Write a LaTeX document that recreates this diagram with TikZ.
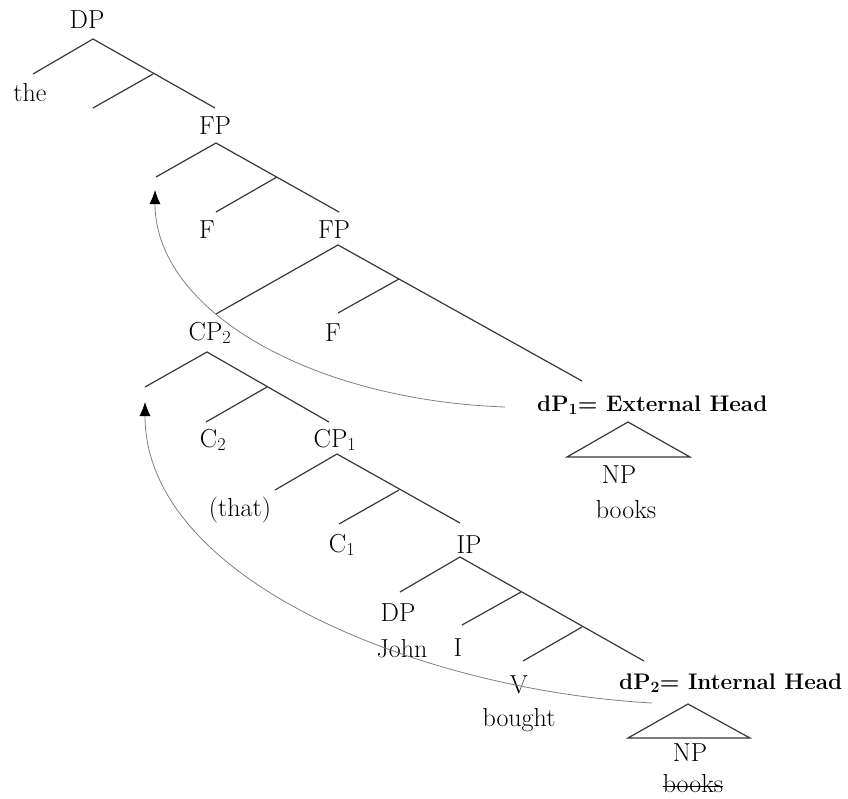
\documentclass[tikz,border=0pt]{standalone}
\usetikzlibrary{arrows.meta}

\begin{document}
\begin{tikzpicture}[x=1pt,y=-1pt,>=Latex,
lbl/.style={inner sep=0pt,font=\fontsize{26}{30}\selectfont},
hd/.style={inner sep=0pt,anchor=west,font=\fontsize{22.5}{27}\selectfont\bfseries},
br/.style={draw=black!78,line width=1.2pt},
mv/.style={draw=black!50,line width=0.8pt,-{Latex[black,length=14pt,width=11pt]}}]
\useasboundingbox (0,0) rectangle (848,798);
% upper tree: DP, FP, FP
\node[lbl] (dp) at (87,20) {DP};
\node[lbl] (the) at (30,93) {the};
\node[lbl] (fpa) at (215,126) {FP};
\node[lbl] (f1) at (207,230) {F};
\node[lbl] (fpb) at (334,230) {FP};
\node[lbl] (cp2) at (210,333) {CP\textsubscript{2}};
\node[lbl] (f2) at (333,333) {F};
\node[hd] (dp1) at (537,405) {dP\textsubscript{1}= External Head};
\node[lbl] (np1) at (619,475) {NP};
\node[lbl] (bk1) at (626,510) {books};
\coordinate (dpT) at (93,39);   \coordinate (theE) at (33,74);
\coordinate (m0) at (153,74);   \coordinate (m0L) at (93,108);
\coordinate (fpaE) at (215,108); \coordinate (fpaT) at (216,143);
\coordinate (fpaL) at (156,177); \coordinate (m1) at (277,177);
\coordinate (f1E) at (216,212); \coordinate (fpbE) at (339,212);
\coordinate (fpbT) at (338,245); \coordinate (cp2E) at (216,314);
\coordinate (m2) at (399,279);  \coordinate (f2E) at (338,313);
\coordinate (dp1E) at (582,381);
\coordinate (t1T) at (628,422); \coordinate (t1L) at (567,457); \coordinate (t1R) at (690,457);
\draw[br] (theE) -- (dpT) -- (fpaE);
\draw[br] (m0) -- (m0L);
\draw[br] (fpaL) -- (fpaT) -- (fpbE);
\draw[br] (m1) -- (f1E);
\draw[br] (cp2E) -- (fpbT) -- (dp1E);
\draw[br] (m2) -- (f2E);
\draw[br] (t1T) -- (t1R) -- (t1L) -- cycle;
% lower tree: CP2, CP1, IP
\node[lbl] (c2) at (213,440) {C\textsubscript{2}};
\node[lbl] (cp1) at (335,440) {CP\textsubscript{1}};
\node[lbl] (that) at (240,510) {(that)};
\node[lbl] (c1) at (342,545) {C\textsubscript{1}};
\node[lbl] (ip) at (469,545) {IP};
\node[lbl] (dp3) at (398,613) {DP};
\node[lbl] (john) at (402,649) {John};
\node[lbl] (infl) at (458,648) {I};
\node[lbl] (v) at (519,685) {V};
\node[lbl] (bought) at (519,720) {bought};
\node[hd] (dp2) at (619,683) {dP\textsubscript{2}= Internal Head};
\node[lbl] (np2) at (690,753) {NP};
\node[lbl] (bk2) at (693,784) {books};
\draw[line width=1pt] ([yshift=-2pt]bk2.west) -- ([yshift=-2pt]bk2.east);
\coordinate (cp2T) at (207,352); \coordinate (cp2L) at (145,387);
\coordinate (m3) at (267,387);  \coordinate (c2E) at (206,422);
\coordinate (cp1E) at (329,422); \coordinate (cp1T) at (337,454);
\coordinate (thatE) at (275,490); \coordinate (m4) at (399,490);
\coordinate (c1E) at (339,524); \coordinate (ipE) at (460,523);
\coordinate (ipT) at (460,557); \coordinate (dp3E) at (400,592);
\coordinate (m5) at (521,592);  \coordinate (iE) at (462,625);
\coordinate (m6) at (582,627);  \coordinate (vE) at (523,661);
\coordinate (dp2E) at (644,661);
\coordinate (t2T) at (688,704); \coordinate (t2L) at (628,738); \coordinate (t2R) at (750,738);
\draw[br] (cp2L) -- (cp2T) -- (cp1E);
\draw[br] (m3) -- (c2E);
\draw[br] (thatE) -- (cp1T) -- (ipE);
\draw[br] (m4) -- (c1E);
\draw[br] (dp3E) -- (ipT) -- (dp2E);
\draw[br] (m5) -- (iE);
\draw[br] (m6) -- (vE);
\draw[br] (t2T) -- (t2R) -- (t2L) -- cycle;
% movement arrows
\coordinate (a1S) at (505,407); \coordinate (a1E) at (155,190);
\coordinate (a2S) at (652,703); \coordinate (a2E) at (145,402);
\draw[mv] (a1S) .. controls (310,400) and (155,310) .. (a1E);
\draw[mv] (a2S) .. controls (420,690) and (145,580) .. (a2E);
\end{tikzpicture}
\end{document}
